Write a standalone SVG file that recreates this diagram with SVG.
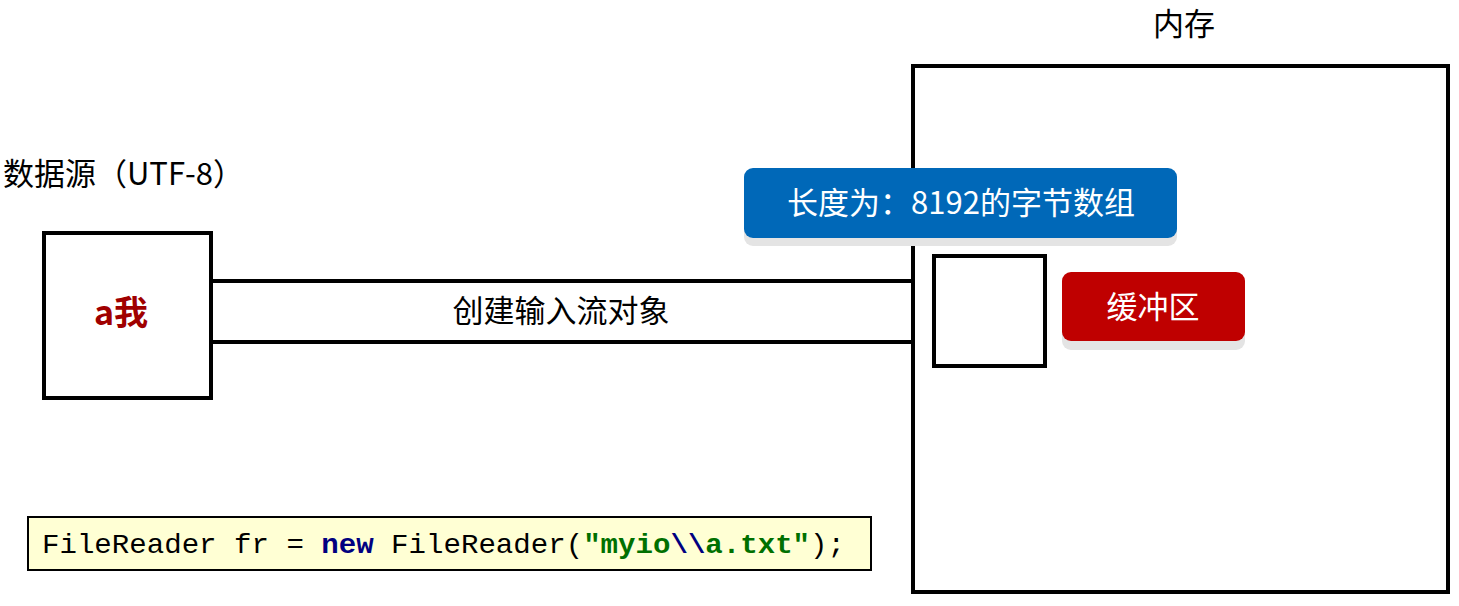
<svg xmlns="http://www.w3.org/2000/svg" width="1459" height="606" viewBox="0 0 1459 606">
<style>
.box{fill:#fff;stroke:#000;stroke-width:4}
.t{font-family:"Noto Sans CJK SC","Noto Sans",sans-serif;font-size:31px;fill:#000}
.w{fill:#fff;text-anchor:middle}
.code{font-family:"Liberation Mono","DejaVu Sans Mono",monospace;font-size:28px;fill:#000}
.kw{fill:#000080;font-weight:bold}
.str{fill:#007000;font-weight:bold}
.shadow{fill:#e4e4e4}
</style>
<rect width="1459" height="606" fill="#fff"/>
<g id="memory">
<rect class="box" x="913" y="66" width="535" height="526"/>
<text class="t" x="1184" y="35" text-anchor="middle">内存</text>
</g>
<g id="connectors">
<line x1="211" y1="281" x2="913" y2="281" stroke="#000" stroke-width="4"/>
<line x1="211" y1="342" x2="913" y2="342" stroke="#000" stroke-width="4"/>
<text class="t" x="561" y="322" text-anchor="middle">创建输入流对象</text>
</g>
<g id="source">
<text class="t" x="3" y="185">数据源（UTF-8）</text>
<rect class="box" x="44" y="233" width="167" height="165"/>
<text x="121" y="325" text-anchor="middle" font-family="'Noto Sans CJK SC','Noto Sans',sans-serif" font-size="34" font-weight="bold" fill="#a00000">a我</text>
</g>
<g id="array-label">
<rect class="shadow" x="744" y="176" width="433" height="70" rx="9"/>
<rect x="744" y="168" width="433" height="70" rx="9" fill="#0068b8"/>
<text class="t w" x="961" y="214">长度为：8192的字节数组</text>
</g>
<g id="buffer">
<rect class="box" x="934" y="256" width="111" height="110"/>
</g>
<g id="buffer-label">
<rect class="shadow" x="1062" y="280" width="183" height="70" rx="9"/>
<rect x="1062" y="272" width="183" height="69" rx="9" fill="#bf0000"/>
<text class="t w" x="1153" y="318">缓冲区</text>
</g>
<g id="code">
<rect x="28" y="517" width="843" height="53" fill="#ffffd4" stroke="#000" stroke-width="2"/>
<text class="code" x="42" y="553" textLength="803" lengthAdjust="spacingAndGlyphs">FileReader fr = <tspan class="kw">new</tspan> FileReader(<tspan class="str">"myio</tspan><tspan class="kw">\\</tspan><tspan class="str">a.txt"</tspan>);</text>
</g>
</svg>
